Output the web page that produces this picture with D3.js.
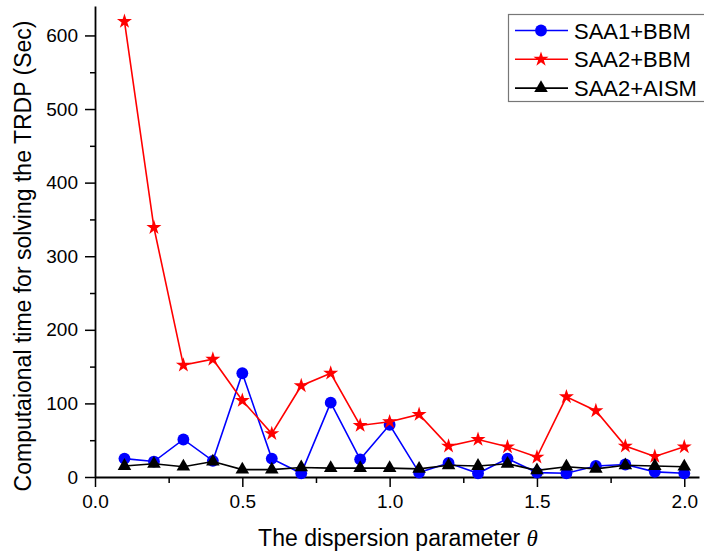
<!DOCTYPE html>
<html>
<head>
<meta charset="utf-8">
<script src="https://cdnjs.cloudflare.com/ajax/libs/d3/7.8.5/d3.min.js"></script>
<style>
  body { margin: 0; background: #fff; }
  svg { display: block; font-family: "Liberation Sans", Arial, sans-serif; }
</style>
</head>
<body>
<svg width="704" height="556"></svg>
<script>
// theta values and the three series (seconds)
var theta = [0.1, 0.2, 0.3, 0.4, 0.5, 0.6, 0.7, 0.8, 0.9, 1.0,
             1.1, 1.2, 1.3, 1.4, 1.5, 1.6, 1.7, 1.8, 1.9, 2.0];
var saa1_bbm  = [25, 21, 51, 22, 141, 25, 5, 101, 24, 71,
                 6, 19, 5, 25, 6, 5, 15, 17, 7, 5];
var saa2_bbm  = [619, 339, 152, 160, 104, 59, 124, 141, 70, 75,
                 85, 42, 51, 41, 27, 109, 90, 42, 28, 41];
var saa2_aism = [15, 18, 14, 21, 10, 10, 13, 12, 12, 12,
                 11, 16, 15, 18, 9, 14, 11, 16, 15, 14];
var seriesNames = ["SAA1+BBM", "SAA2+BBM", "SAA2+AISM"];
var xTicks = [0, 0.5, 1.0, 1.5, 2.0];
var yTicks = [0, 100, 200, 300, 400, 500, 600];

function paint_chart(){
	var svg = d3.select("svg");
	var left = 95, right = 699, top = 6, bottom = 477;

	var xScale = d3.scaleLinear().domain([0, 2.05]).range([left, right]),
			yScale = d3.scaleLinear().domain([0, 640]).range([bottom, top]);

	// minor ticks first, then the labelled ones on top
	svg.append("g")
	 .attr("transform", "translate(0," + bottom + ")")
	 .call(d3.axisBottom(xScale).tickValues([0.25, 0.75, 1.25, 1.75]).tickSize(6).tickFormat(""))
	 .call(function(g){ g.select(".domain").remove(); });
	svg.append("g")
	 .attr("transform", "translate(" + left + ",0)")
	 .call(d3.axisLeft(yScale).tickValues([50, 150, 250, 350, 450, 550]).tickSize(5).tickFormat(""))
	 .call(function(g){ g.select(".domain").remove(); });

	var gx = svg.append("g")
	 .attr("transform", "translate(0," + bottom + ")")
	 .call(d3.axisBottom(xScale).tickValues(xTicks).tickSize(10).tickSizeOuter(0).tickPadding(8)
	 .tickFormat(d3.format(".1f")));
	gx.selectAll("text").attr("font-size", "19px").attr("font-family", "Liberation Sans, Arial, sans-serif").attr("fill", "#000");

	var gy = svg.append("g")
	 .attr("transform", "translate(" + left + ",0)")
	 .call(d3.axisLeft(yScale).tickValues(yTicks).tickSize(10).tickSizeOuter(0).tickPadding(7));
	gy.selectAll("text").attr("font-size", "19px").attr("font-family", "Liberation Sans, Arial, sans-serif").attr("fill", "#000");

	svg.selectAll(".domain").attr("stroke", "#000").attr("stroke-width", 1.8);
	svg.selectAll(".tick line").attr("stroke", "#000").attr("stroke-width", 1.5);

	// axis titles
	var xl = svg.append("text")
	 .attr("x", 398)
	 .attr("y", 546)
	 .attr("text-anchor", "middle")
	 .attr("font-size", "23px")
	 .text("The dispersion parameter ");
	xl.append("tspan")
	 .attr("font-family", "Liberation Serif, serif")
	 .attr("font-style", "italic")
	 .text("\u03B8");

	svg.append("text")
	 .attr("transform", "translate(31,256) rotate(-90)")
	 .attr("text-anchor", "middle")
	 .attr("font-size", "23px")
	 .text("Computaional time for solving the TRDP (Sec)");

	var series = [
		{name: seriesNames[0], values: saa1_bbm,  color: "#0000ff", sym: d3.symbolCircle,   size: 110},
		{name: seriesNames[1], values: saa2_bbm,  color: "#ff0000", sym: d3.symbolStar,     size: 70},
		{name: seriesNames[2], values: saa2_aism, color: "#000000", sym: d3.symbolTriangle, size: 80}
	];

	var line = d3.line()
	 .x(function(d) { return xScale(d[0]); })
	 .y(function(d) { return yScale(d[1]); });

	series.forEach(function(s){
		var pts = theta.map(function(t, i){ return [t, s.values[i]]; });
		svg.append("path")
		 .datum(pts)
		 .attr("fill", "none")
		 .attr("stroke", s.color)
		 .attr("stroke-width", 1.6)
		 .attr("d", line);
		svg.selectAll(null)
		 .data(pts)
		 .enter().append("path")
		 .attr("transform", function(d) { return "translate(" + xScale(d[0]) + "," + yScale(d[1]) + ")"; })
		 .attr("d", d3.symbol().type(s.sym).size(s.size))
		 .attr("fill", s.color);
	});

	// legend
	var lg = svg.append("g").attr("transform", "translate(508,14)");
	lg.append("rect")
	 .attr("x", 0.5).attr("y", 0.5)
	 .attr("width", 205).attr("height", 87)
	 .attr("fill", "#fff")
	 .attr("stroke", "#777")
	 .attr("stroke-width", 1.2);
	series.forEach(function(s, i){
		var cy = 16.5 + i * 28.8;
		lg.append("line")
		 .attr("x1", 7).attr("x2", 60)
		 .attr("y1", cy).attr("y2", cy)
		 .attr("stroke", s.color).attr("stroke-width", 1.6);
		lg.append("path")
		 .attr("transform", "translate(33," + cy + ")")
		 .attr("d", d3.symbol().type(s.sym).size(s.size))
		 .attr("fill", s.color);
		lg.append("text")
		 .attr("x", 66)
		 .attr("y", cy + 8)
		 .attr("font-size", "22px")
		 .text(s.name);
	});
}

paint_chart();
</script>
</body>
</html>
